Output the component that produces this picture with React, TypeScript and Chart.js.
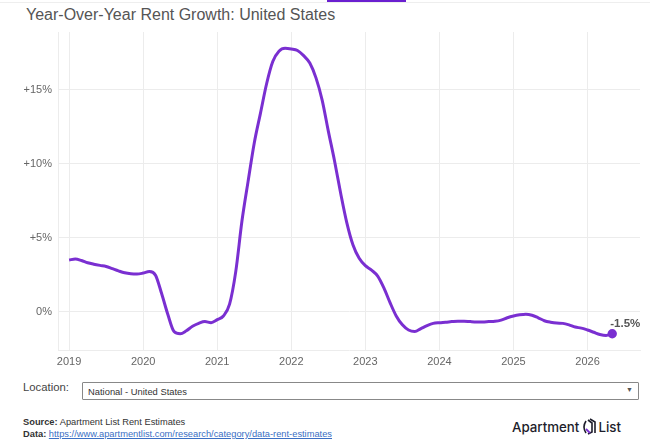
import React, { useEffect, useRef } from "react";
import { Chart, registerables } from "chart.js";

Chart.register(...registerables);

// Monthly YoY rent growth (%), starting January 2019
const startYear = 2019;
const yoyGrowth: number[] = [
  // 2019
  3.48, 3.55, 3.45, 3.3, 3.2, 3.12, 3.05, 2.9, 2.75, 2.62, 2.55, 2.53,
  // 2020
  2.6, 2.71, 2.46, 1.2, -0.2, -1.35, -1.5, -1.3, -1.0, -0.8, -0.68, -0.75,
  // 2021
  -0.55, -0.3, 0.5, 2.7, 6.1, 8.8, 11.4, 13.4, 15.4, 16.9, 17.6, 17.8,
  // 2022
  17.75, 17.65, 17.3, 16.8, 15.8, 14.3, 12.2, 10.2, 8.0, 6.0, 4.5, 3.6,
  // 2023
  3.1, 2.8, 2.4, 1.6, 0.6, -0.3, -0.9, -1.25, -1.35, -1.15, -0.95, -0.8,
  // 2024
  -0.75, -0.72, -0.68, -0.65, -0.65, -0.68, -0.7, -0.7, -0.68, -0.66, -0.58, -0.42,
  // 2025
  -0.3, -0.22, -0.18, -0.25, -0.42, -0.62, -0.72, -0.78, -0.8, -0.9, -1.05, -1.12,
  // 2026
  -1.25, -1.4, -1.55, -1.62, -1.5,
];
const yearTicks: number[] = [2019, 2020, 2021, 2022, 2023, 2024, 2025, 2026];
const percentTicks: number[] = [0, 5, 10, 15];
const endLabel = "-1.5%";

const LINE_COLOR = "#7a2fd1";

export default function App() {
  const canvasRef = useRef<HTMLCanvasElement | null>(null);

  useEffect(() => {
    if (!canvasRef.current) return;
    const points = yoyGrowth.map((v, i) => ({ x: i, y: v }));
    const lastIndex = points.length - 1;

    const endLabelPlugin = {
      id: "endLabel",
      afterDatasetsDraw(chart: any) {
        const meta = chart.getDatasetMeta(0);
        const el = meta.data[meta.data.length - 1];
        if (!el) return;
        const ctx = chart.ctx;
        ctx.save();
        ctx.font = "bold 11.5px 'Liberation Sans', Arial, sans-serif";
        ctx.fillStyle = "#555";
        ctx.textAlign = "left";
        ctx.textBaseline = "middle";
        ctx.fillText(endLabel, el.x - 2, el.y - 10);
        ctx.restore();
      },
    };

    const chart = new Chart(canvasRef.current, {
      type: "line",
      data: {
        datasets: [
          {
            data: points,
            borderColor: LINE_COLOR,
            backgroundColor: LINE_COLOR,
            borderWidth: 3,
            tension: 0.4,
            cubicInterpolationMode: "monotone",
            pointRadius: (c: any) => (c.dataIndex === lastIndex ? 3.2 : 0),
            pointHoverRadius: 0,
            fill: false,
          },
        ],
      },
      options: {
        animation: false,
        responsive: false,
        maintainAspectRatio: false,
        layout: { padding: { top: 32, right: 10, bottom: 0, left: 0 } },
        plugins: {
          legend: { display: false },
          tooltip: { enabled: false },
          title: { display: false },
        },
        scales: {
          x: {
            type: "linear",
            min: -1.8,
            max: 92.5,
            afterBuildTicks: (scale: any) => {
              scale.ticks = yearTicks.map((y) => ({ value: (y - startYear) * 12 }));
            },
            afterFit: (scale: any) => {
              scale.height = 30;
            },
            ticks: {
              autoSkip: false,
              maxRotation: 0,
              padding: 5,
              color: "#666",
              font: { family: "'Liberation Sans', Arial, sans-serif", size: 11 },
              callback: (v: any) => String(startYear + Math.round(Number(v) / 12)),
            },
            grid: { color: "#ececec", drawTicks: false, lineWidth: 1 },
            border: { display: true, color: "#ececec" },
          },
          y: {
            type: "linear",
            min: -2.6,
            max: 18.9,
            afterBuildTicks: (scale: any) => {
              scale.ticks = percentTicks.map((v) => ({ value: v }));
            },
            afterFit: (scale: any) => {
              scale.width = 58;
            },
            ticks: {
              padding: 6,
              color: "#666",
              font: { family: "'Liberation Sans', Arial, sans-serif", size: 11 },
              callback: (v: any) => (Number(v) === 0 ? "0%" : "+" + v + "%"),
            },
            grid: { color: "#ececec", drawTicks: false, lineWidth: 1 },
            border: { display: true, color: "#ececec" },
          },
        },
      },
      plugins: [endLabelPlugin],
    } as any);

    return () => chart.destroy();
  }, []);

  const font = "'Liberation Sans', Arial, sans-serif";

  return (
    <div
      style={{
        position: "fixed",
        left: 0,
        top: 0,
        width: 650,
        height: 440,
        background: "#fff",
        fontFamily: font,
        overflow: "hidden",
      }}
    >
      <div style={{ position: "absolute", left: 0, top: 2, width: 650, height: 1, background: "#eeeeee" }} />
      <div style={{ position: "absolute", left: 327, top: 0, width: 79, height: 2, background: "#6a1fd0" }} />
      <div
        style={{
          position: "absolute",
          left: 26,
          top: 6,
          fontSize: 16,
          color: "#555",
          whiteSpace: "nowrap",
        }}
      >
        Year-Over-Year Rent Growth: United States
      </div>
      <canvas
        ref={canvasRef}
        width={650}
        height={380}
        style={{ position: "absolute", left: 0, top: 0, width: 650, height: 380 }}
      />
      <div
        style={{
          position: "absolute",
          left: 23,
          top: 381,
          fontSize: 11.3,
          color: "#444",
          whiteSpace: "nowrap",
        }}
      >
        Location:
      </div>
      <div
        style={{
          position: "absolute",
          left: 82,
          top: 382,
          width: 555,
          height: 16,
          border: "1px solid #888",
          borderRadius: 1,
          boxSizing: "content-box",
        }}
      >
        <span
          style={{
            position: "absolute",
            left: 5,
            top: 2.5,
            fontSize: 9.4,
            color: "#333",
            whiteSpace: "nowrap",
          }}
        >
          National - United States
        </span>
        <span style={{ position: "absolute", right: 5, top: 3, fontSize: 7, color: "#555" }}>▼</span>
      </div>
      <div style={{ position: "absolute", left: 23, top: 416, fontSize: 9.3, color: "#333", whiteSpace: "nowrap", lineHeight: "12px" }}>
        <b>Source:</b> Apartment List Rent Estimates
      </div>
      <div style={{ position: "absolute", left: 23, top: 428, fontSize: 9.3, color: "#333", whiteSpace: "nowrap", lineHeight: "12px" }}>
        <b>Data:</b>{" "}
        <span style={{ color: "#3b6fc4", textDecoration: "underline" }}>
          https://www.apartmentlist.com/research/category/data-rent-estimates
        </span>
      </div>
      <div
        style={{
          position: "absolute",
          left: 512,
          top: 418,
          display: "flex",
          alignItems: "center",
          fontFamily: "Inter, 'Noto Sans', sans-serif",
          fontWeight: 500,
          fontSize: 13.3,
          color: "#1d1d2b",
          whiteSpace: "nowrap",
          lineHeight: "18px",
        }}
      >
        <span>Apartment</span>
        <svg width="16" height="18" viewBox="0 0 16 18" style={{ margin: "0 1px 0 2px" }}>
          <path d="M5 3 Q1 9 5 15" stroke="#1d1d2b" strokeWidth="1.6" fill="none" />
          <path d="M7 2 L11 5 L11 14 L7 16" stroke="#1d1d2b" strokeWidth="1.6" fill="none" />
          <path d="M9 1 L14 4 L14 15" stroke="#1d1d2b" strokeWidth="1.6" fill="none" />
          <path d="M5 11 L9 15" stroke="#7a2fd1" strokeWidth="1.8" fill="none" />
        </svg>
        <span>List</span>
      </div>
    </div>
  );
}
